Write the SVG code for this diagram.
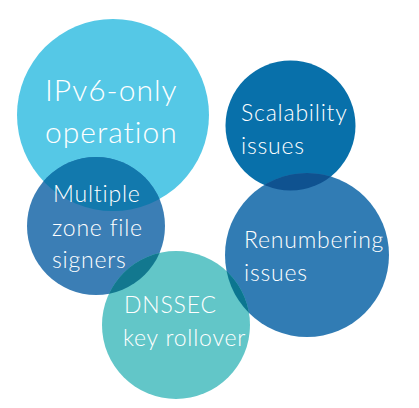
<svg xmlns="http://www.w3.org/2000/svg" width="419" height="408" viewBox="0 0 419 408">
<style>
text{font-family:Lato,"Open Sans",sans-serif;font-weight:300;fill:#fff}
.big{font-size:30px;letter-spacing:1px}
.mid{font-size:23px;letter-spacing:0.8px}
</style>
<defs>
<clipPath id="cIPv6"><circle cx="113" cy="115" r="96"/></clipPath>
<clipPath id="cMulti"><circle cx="96" cy="226" r="69"/></clipPath>
<clipPath id="cScal"><circle cx="290.5" cy="125.5" r="65"/></clipPath>
<clipPath id="cRen"><circle cx="307" cy="255" r="82"/></clipPath>
<clipPath id="cDns"><circle cx="176" cy="325" r="74"/></clipPath>
</defs>
<rect width="419" height="408" fill="#fff"/>
<g id="ipv6">
<circle cx="113" cy="115" r="96" fill="#55C8E6"/>
</g>
<g id="scalability">
<circle cx="290.5" cy="125.5" r="65" fill="#0870AA"/>
</g>
<g id="renumbering">
<circle cx="307" cy="255" r="82" fill="#317CB4"/>
<circle cx="307" cy="255" r="82" fill="#0F5290" clip-path="url(#cScal)"/>
</g>
<g id="multiple">
<circle cx="96" cy="226" r="69" fill="#3B7EB5"/>
<circle cx="96" cy="226" r="69" fill="#1279AD" clip-path="url(#cIPv6)"/>
</g>
<g id="dnssec">
<circle cx="176" cy="325" r="74" fill="#62C6C8"/>
<circle cx="176" cy="325" r="74" fill="#12788F" clip-path="url(#cMulti)"/>
<circle cx="176" cy="325" r="74" fill="#0B7690" clip-path="url(#cRen)"/>
</g>
<g id="labels">
<text class="big" x="45" y="101">IPv6-only</text>
<text class="big" x="45" y="143">operation</text>
<text class="mid" x="53" y="202">Multiple</text>
<text class="mid" x="52" y="236">zone file</text>
<text class="mid" x="52" y="268">signers</text>
<text class="mid" x="241" y="121">Scalability</text>
<text class="mid" x="241" y="154">issues</text>
<g clip-path="url(#cRen)">
<text class="mid" x="244" y="248">Renumbering</text>
</g>
<text class="mid" x="244" y="281">issues</text>
<text class="mid" x="124" y="313">DNSSEC</text>
<text class="mid" x="123" y="346">key rollover</text>
</g>
</svg>
